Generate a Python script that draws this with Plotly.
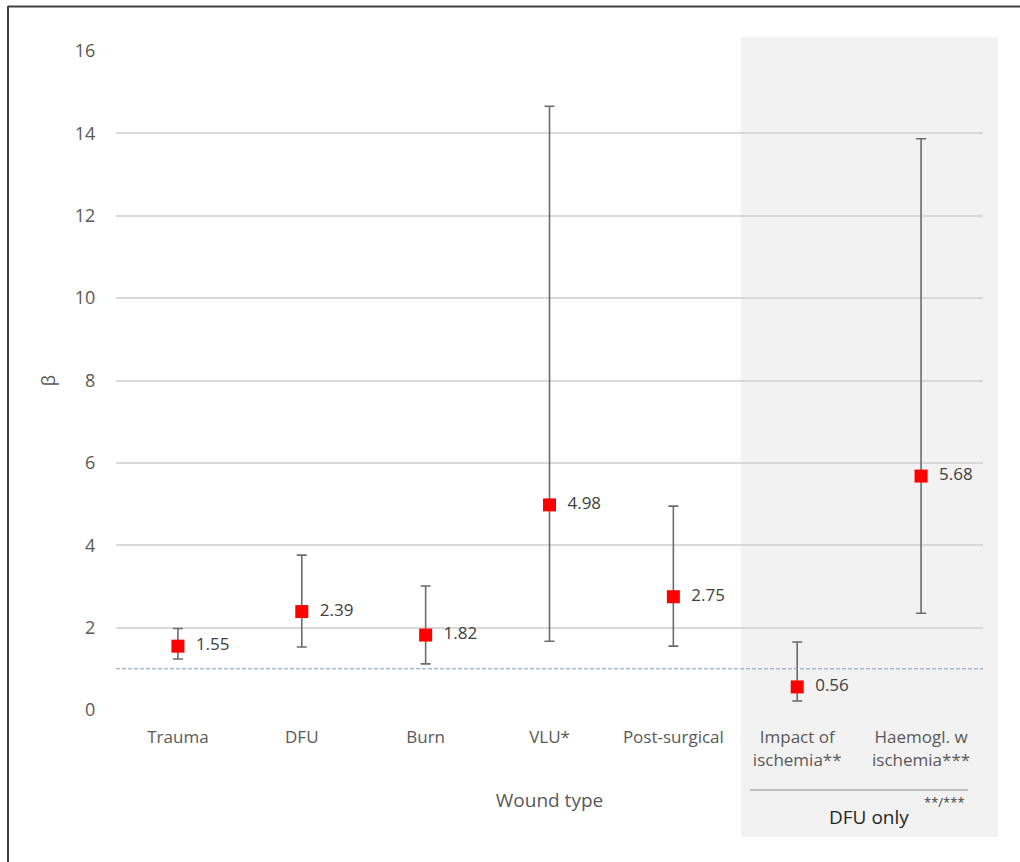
import plotly.graph_objects as go

categories = ["Trauma", "DFU", "Burn", "VLU*", "Post-surgical",
              "Impact of<br>ischemia**", "Haemogl. w<br>ischemia***"]
beta = [1.55, 2.39, 1.82, 4.98, 2.75, 0.56, 5.68]
ci_upper = [1.98, 3.76, 3.01, 14.66, 4.95, 1.65, 13.87]
ci_lower = [1.24, 1.53, 1.12, 1.67, 1.55, 0.22, 2.35]
labels = ["1.55", "2.39", "1.82", "4.98", "2.75", "0.56", "5.68"]
y_ticks = [0, 2, 4, 6, 8, 10, 12, 14, 16]
ref_line = 1

FONT = "Open Sans"
W, H = 1020, 862
L, R, T, B = 116, 37, 51, 152
pw = W - L - R
ph = H - T - B

def px_x(p):
    return (p - L) / pw

def px_y(p):
    return (H - B - p) / ph

fig = go.Figure()
fig.add_trace(go.Scatter(
    x=categories, y=beta, mode="markers+text",
    text=["  " + t for t in labels], textposition="middle right",
    textfont=dict(family=FONT, size=17, color="#404040"),
    marker=dict(symbol="square", size=13, color="#ff0000"),
    error_y=dict(type="data", symmetric=False,
                 array=[u - v for u, v in zip(ci_upper, beta)],
                 arrayminus=[v - l for v, l in zip(beta, ci_lower)],
                 color="#6b6b6b", thickness=1.6, width=5),
    showlegend=False, cliponaxis=False, hoverinfo="skip",
))

# shaded DFU-only region
fig.add_shape(type="rect", xref="paper", yref="paper",
              x0=px_x(741), x1=px_x(998), y0=px_y(837), y1=px_y(37),
              fillcolor="#f2f2f2", line_width=0, layer="below")
# reference line at beta = 1
fig.add_shape(type="line", xref="paper", yref="y", x0=0, x1=1,
              y0=ref_line, y1=ref_line,
              line=dict(color="#7a9ebf", width=1, dash="4px,2px"))
# grey line under DFU-only labels
fig.add_shape(type="line", xref="paper", yref="paper",
              x0=px_x(750), x1=px_x(968), y0=px_y(790), y1=px_y(790),
              line=dict(color="#8c8c8c", width=1.2))
# frame lines (top and left)
fig.add_shape(type="line", xref="paper", yref="paper",
              x0=px_x(8), x1=px_x(1020), y0=px_y(6.5), y1=px_y(6.5),
              line=dict(color="#404040", width=2))
fig.add_shape(type="line", xref="paper", yref="paper",
              x0=px_x(8), x1=px_x(8), y0=px_y(6), y1=px_y(862),
              line=dict(color="#404040", width=2))

fig.add_annotation(xref="paper", yref="paper", x=px_x(869), y=px_y(817),
                   xanchor="center", yanchor="middle",
                   text="DFU only", showarrow=False,
                   font=dict(family=FONT, size=19, color="#262626"))
fig.add_annotation(xref="paper", yref="paper", x=px_x(944), y=px_y(802),
                   xanchor="center", yanchor="middle",
                   text="**/***", showarrow=False,
                   font=dict(family=FONT, size=13, color="#404040"))

fig.update_layout(
    width=W, height=H,
    margin=dict(l=L, r=R, t=T, b=B),
    paper_bgcolor="white", plot_bgcolor="rgba(0,0,0,0)",
    font=dict(family=FONT, color="#595959"),
    xaxis=dict(
        type="category", range=[-0.5, 6.5],
        showgrid=False, zeroline=False, showline=False,
        ticks="outside", ticklen=12, tickcolor="rgba(0,0,0,0)",
        tickfont=dict(family=FONT, size=17, color="#595959"),
        title=dict(text="Wound type", standoff=24,
                   font=dict(family=FONT, size=19, color="#595959")),
    ),
    yaxis=dict(
        range=[0, 16], tickvals=y_ticks,
        showgrid=True, gridcolor="#d9d9d9", gridwidth=1.5,
        zeroline=False, showline=False,
        ticks="outside", ticklen=16, tickcolor="rgba(0,0,0,0)",
        tickfont=dict(family=FONT, size=18, color="#595959"),
        title=dict(text="β", standoff=14,
                   font=dict(family=FONT, size=18, color="#595959")),
    ),
)

fig.write_html("out.html", config={"displayModeBar": False},
               post_script="document.body.style.margin='0';")
